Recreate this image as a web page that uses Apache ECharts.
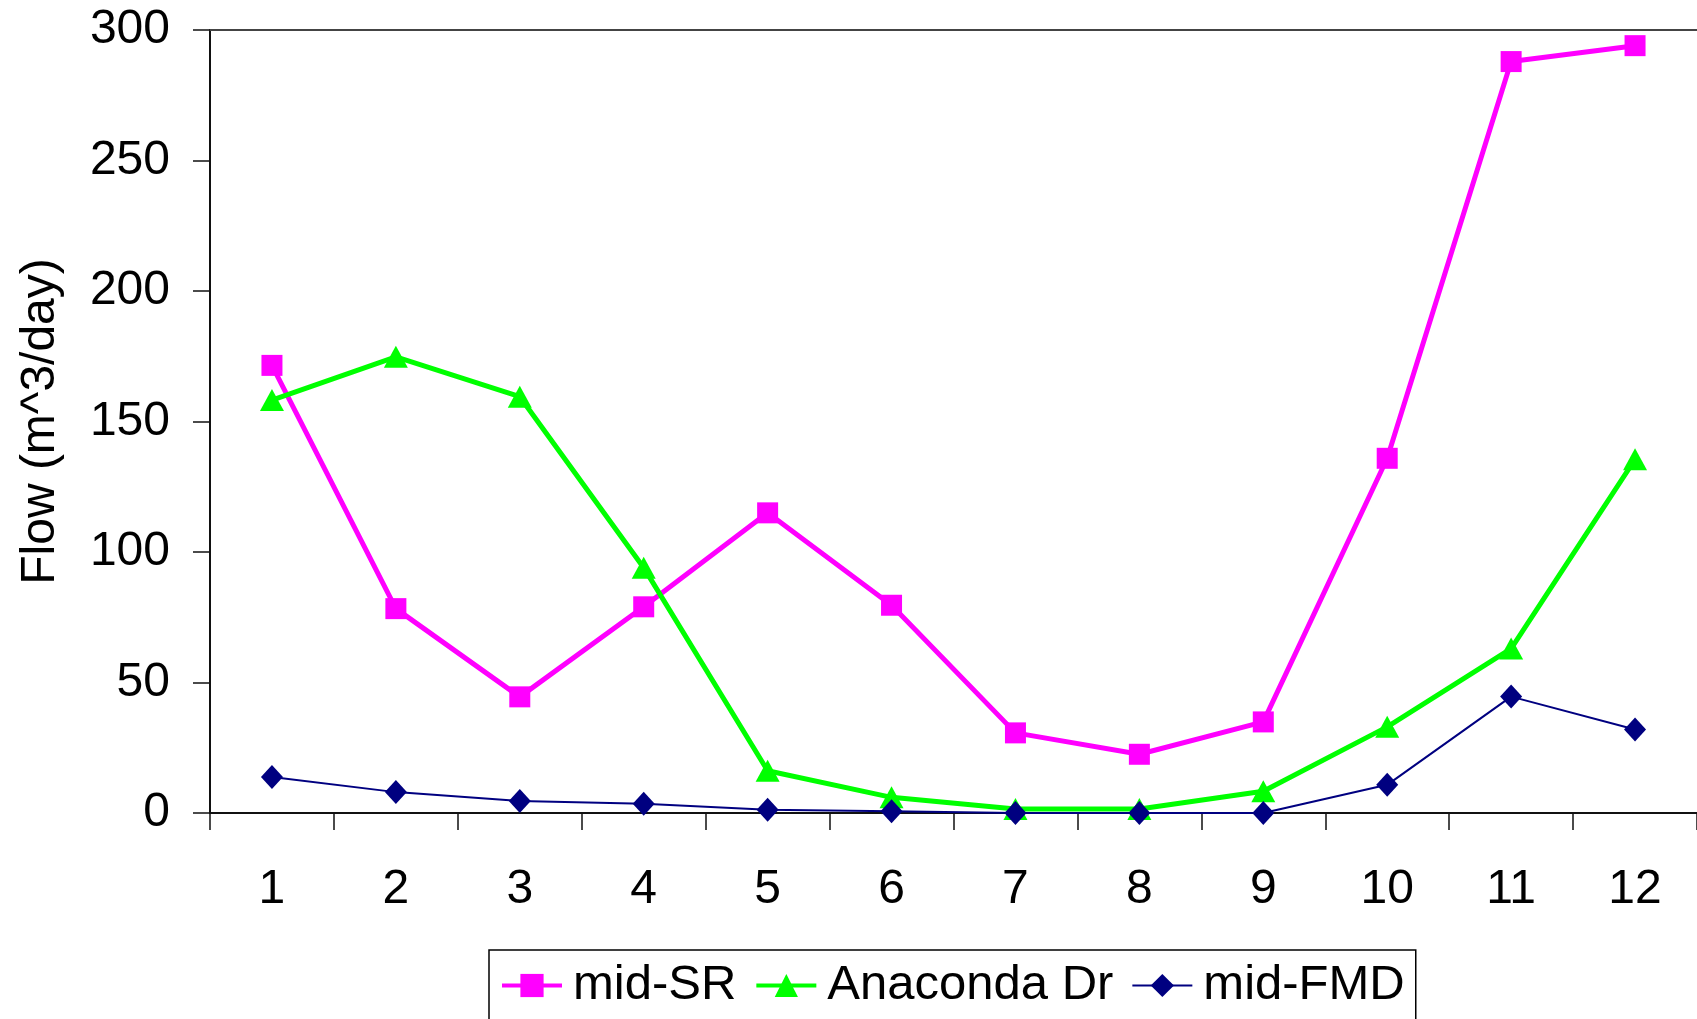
<!DOCTYPE html>
<html>
<head>
<meta charset="utf-8">
<script src="https://cdn.jsdelivr.net/npm/echarts@6/dist/echarts.min.js"></script>
<style>
html,body{margin:0;padding:0;background:#fff;}
#chart{width:1697px;height:1019px;}
</style>
</head>
<body>
<div id="chart"></div>
<script>
var months = ['1','2','3','4','5','6','7','8','9','10','11','12'];
var midSR = [171.5, 78.3, 44.5, 79, 115, 79.6, 30.7, 22.5, 34.9, 135.9, 287.9, 294];
var anaconda = [158.2, 174.8, 159.5, 94, 16.2, 6, 1.5, 1.5, 8.3, 33, 63, 135.5];
var midFMD = [13.8, 8, 4.6, 3.5, 1.2, 0.7, 0, 0, 0, 10.8, 44.6, 32];
var seriesNames = ['mid-SR', 'Anaconda Dr', 'mid-FMD'];
var yTicks = {min: 0, max: 300, interval: 50};

var FONT = '"Liberation Sans", Arial, sans-serif';
var chart = echarts.init(document.getElementById('chart'), null, {renderer: 'canvas'});
chart.setOption({
  animation: false,
  backgroundColor: '#ffffff',
  grid: {left: 210, right: 0, top: 30, bottom: 206, containLabel: false},
  legend: {
    data: [
      {name: seriesNames[0], lineStyle: {width: 4}},
      {name: seriesNames[1], lineStyle: {width: 4}},
      {name: seriesNames[2], lineStyle: {width: 2}}
    ],
    left: 489,
    top: 950,
    orient: 'horizontal',
    backgroundColor: '#ffffff',
    borderColor: '#000000',
    borderWidth: 1.5,
    padding: [11, 11, 40, 11],
    itemGap: 18,
    itemWidth: 60,
    itemHeight: 29,
    textStyle: {fontFamily: FONT, fontSize: 49, color: '#000', padding: [0, 0, 0, 6]}
  },
  xAxis: [{
    type: 'category',
    data: months,
    boundaryGap: true,
    axisLine: {show: true, lineStyle: {color: '#111', width: 2}},
    axisTick: {show: true, length: 17, inside: false, lineStyle: {color: '#111', width: 1.5}},
    axisLabel: {fontFamily: FONT, fontSize: 48, color: '#000', margin: 53},
    splitLine: {show: false}
  }, {
    type: 'category',
    data: months,
    position: 'top',
    axisLine: {show: true, lineStyle: {color: '#444', width: 2}},
    axisTick: {show: false},
    axisLabel: {show: false},
    splitLine: {show: false}
  }],
  yAxis: {
    type: 'value',
    min: yTicks.min,
    max: yTicks.max,
    interval: yTicks.interval,
    name: 'Flow (m^3/day)',
    nameLocation: 'middle',
    nameGap: 145,
    nameRotate: 90,
    nameTextStyle: {fontFamily: FONT, fontSize: 48, color: '#000'},
    axisLine: {show: true, lineStyle: {color: '#111', width: 2}},
    axisTick: {show: true, length: 17, inside: false, lineStyle: {color: '#111', width: 1.5}},
    axisLabel: {fontFamily: FONT, fontSize: 48, color: '#000', margin: 40},
    splitLine: {show: false}
  },
  series: [{
    name: seriesNames[0],
    type: 'line',
    data: midSR,
    symbol: 'rect',
    symbolSize: 21,
    showAllSymbol: true,
    lineStyle: {color: '#FF00FF', width: 5},
    itemStyle: {color: '#FF00FF', borderWidth: 0}
  }, {
    name: seriesNames[1],
    type: 'line',
    data: anaconda,
    symbol: 'triangle',
    symbolSize: [24, 22],
    showAllSymbol: true,
    lineStyle: {color: '#00FF00', width: 5},
    itemStyle: {color: '#00FF00', borderWidth: 0}
  }, {
    name: seriesNames[2],
    type: 'line',
    data: midFMD,
    symbol: 'diamond',
    symbolSize: [22, 24],
    showAllSymbol: true,
    lineStyle: {color: '#000080', width: 2},
    itemStyle: {color: '#000080', borderWidth: 0}
  }]
});
</script>
</body>
</html>
